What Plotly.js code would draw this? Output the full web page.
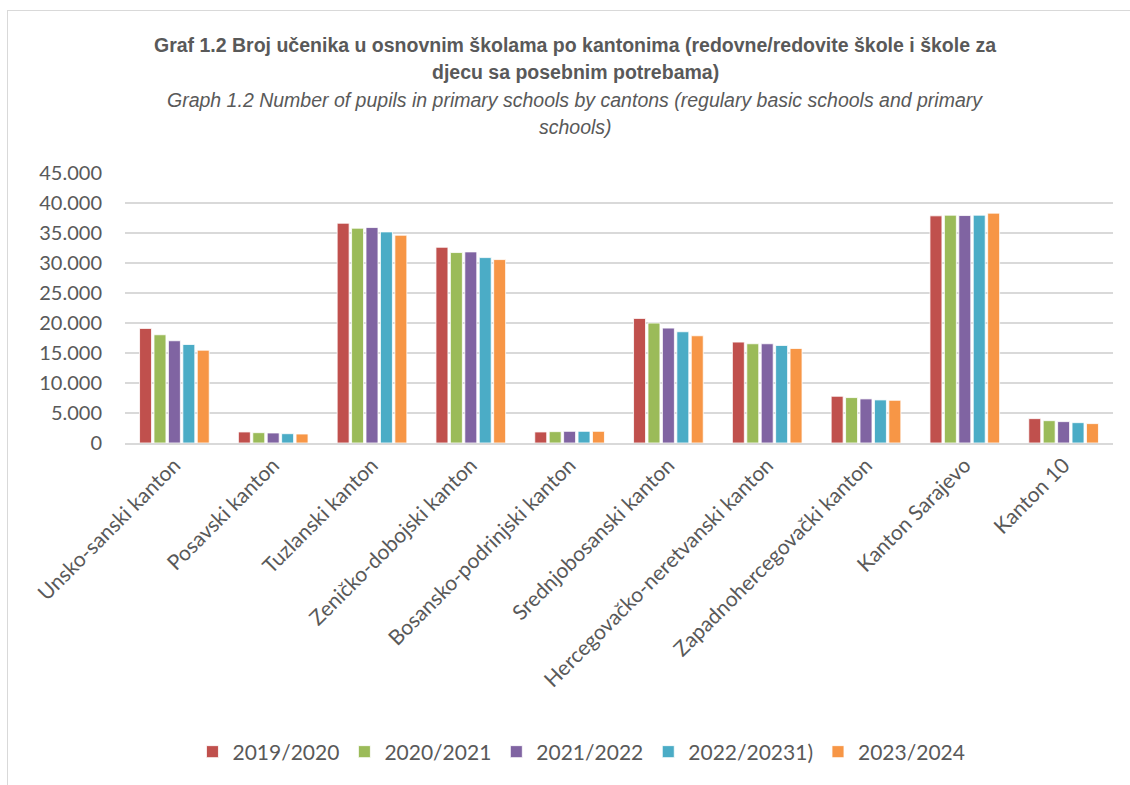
<!DOCTYPE html>
<html>
<head>
<meta charset="utf-8">
<script src="https://cdn.plot.ly/plotly-3.0.1.min.js"></script>
<style>
html,body{margin:0;padding:0;background:#fff;}
#frame{position:absolute;left:7px;top:10px;width:1200px;height:800px;border:1px solid #d9d9d9;box-sizing:border-box;}
#chart{position:absolute;left:0;top:0;width:1130px;height:785px;}
</style>
</head>
<body>
<div id="frame"></div>
<div id="chart"></div>
<script>
const cantons = ["Unsko-sanski kanton","Posavski kanton","Tuzlanski kanton","Zeničko-dobojski kanton","Bosansko-podrinjski kanton","Srednjobosanski kanton","Hercegovačko-neretvanski kanton","Zapadnohercegovački kanton","Kanton Sarajevo","Kanton 10"];
const seriesNames = ["2019/2020","2020/2021","2021/2022","2022/20231)","2023/2024"];
const y2019 = [19100,1840,36630,32620,1840,20770,16820,7790,37860,4060];
const y2020 = [18040,1720,35800,31740,1890,19990,16540,7570,37970,3720];
const y2021 = [17040,1670,35910,31850,1950,19150,16540,7350,37910,3560];
const y2022 = [16420,1550,35180,30900,1950,18540,16260,7180,37970,3390];
const y2023 = [15470,1500,34630,30570,1950,17870,15760,7120,38310,3230];
const titleLines = ["Graf 1.2 Broj učenika u osnovnim školama po kantonima (redovne/redovite škole i škole za","djecu sa posebnim potrebama)"];
const subtitleLines = ["Graph 1.2 Number of pupils in primary schools by cantons (regulary basic schools and primary","schools)"];
const colors = ["#C0504D","#9BBB59","#8064A2","#4BACC6","#F79646"];
const allY = [y2019,y2020,y2021,y2022,y2023];

const traces = allY.map((v,i)=>({
  type:'bar', name:seriesNames[i], x:cantons, y:v,
  marker:{color:colors[i], line:{color:'rgba(255,255,255,0.8)', width:1}},
  hoverinfo:'x+y+name'
}));

const tf = '"Liberation Sans Narrow", "Arial Narrow", "Liberation Sans", sans-serif';
// plot area: top 173px, height 270px
const py = px => (443 - px) / 270;
const titleAnn = [
  {text:'<b>'+titleLines[0]+'</b>', y:py(45), size:19.5},
  {text:'<b>'+titleLines[1]+'</b>', y:py(72), size:19.5},
  {text:'<i>'+subtitleLines[0]+'</i>', y:py(100), size:19.5},
  {text:'<i>'+subtitleLines[1]+'</i>', y:py(127), size:19.5}
].map(a=>({text:a.text, xref:'paper', yref:'paper', x:(575-125)/988, y:a.y, xanchor:'center', yanchor:'middle',
  showarrow:false, font:{family:tf, size:a.size, color:'#595959'}}));

const layout = {
  width:1130, height:785,
  paper_bgcolor:'rgba(0,0,0,0)', plot_bgcolor:'rgba(0,0,0,0)',
  margin:{l:125, r:17, t:173, b:342, pad:0},
  separators:',.',
  barmode:'group', bargap:0.27, bargroupgap:0.17,
  font:{family:'Lato, "Open Sans", sans-serif', color:'#595959', size:18},
  showlegend:true,
  legend:{orientation:'h', x:0.462, xanchor:'center', y:py(752), yanchor:'middle',
          font:{size:21, color:'#595959'}, itemwidth:30, traceorder:'normal', itemclick:false},
  xaxis:{type:'category', tickangle:-45, tickfont:{size:21, color:'#595959'},
         showline:true, linecolor:'#d9d9d9', linewidth:1.5, ticks:'', showgrid:false, automargin:false},
  yaxis:{range:[0,45000], dtick:5000, tickformat:',d', showgrid:true, gridcolor:'#d9d9d9', gridwidth:1.5,
         zeroline:false, showline:false, ticks:'', tickfont:{size:20, color:'#595959'}, ticklabelstandoff:22, automargin:false},
  annotations:titleAnn
};
Plotly.newPlot('chart', traces, layout, {displayModeBar:false});
</script>
</body>
</html>
